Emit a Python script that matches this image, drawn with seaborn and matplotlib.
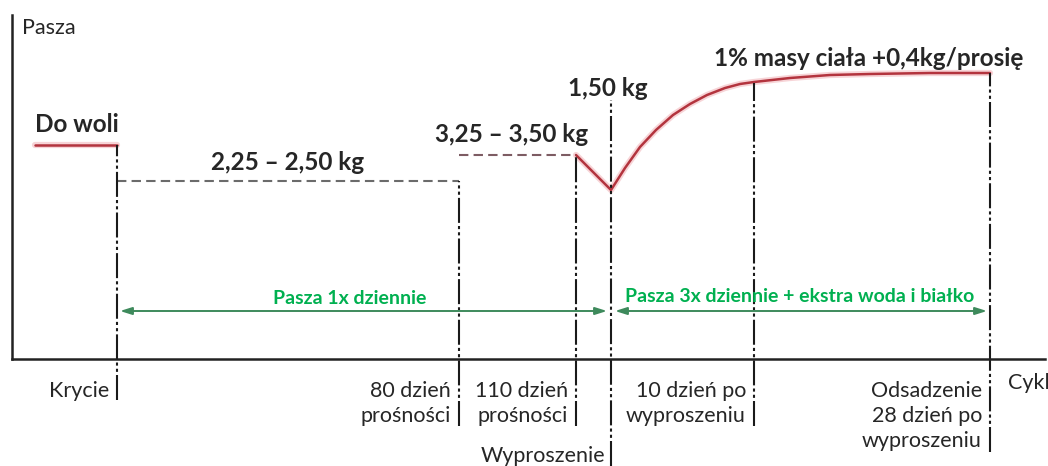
import numpy as np
import pandas as pd
import matplotlib
matplotlib.use('Agg')
import matplotlib.pyplot as plt
import seaborn as sns

sns.set_style('white')
plt.rcParams['font.family'] = ['Lato', 'DejaVu Sans']

# schematic timeline positions of the cycle stages (not to scale, as in the source)
stage_names = ['Krycie', '80 dzień\nprośności', '110 dzień\nprośności', 'Wyproszenie',
               '10 dzień po\nwyproszeniu', 'Odsadzenie\n28 dzień po\nwyproszeniu']
stage_x = [105, 447, 564, 599, 742, 978]
stage_top = [214, 178, 204, 259, 276, 286]
stage_bottom = [-41, -67, -67, -107, -67, -93]

# feed level (schematic units)
ad_lib_x = [23, 105]
ad_lib_y = [214, 214]
early_x = [105, 447]
early_y = [178, 178]
late_x = [447, 564]
late_y = [204, 204]
lact_x = [564, 599, 613, 628, 644, 661, 678, 695, 713, 728, 742, 778, 818, 858, 918, 978]
lact_y = [204, 169, 191, 212, 229, 244, 255, 264, 271, 275, 277, 281, 284, 285, 286, 286]

red = '#b3343e'
green_txt = '#00b050'
green_arrow = '#3e8a5c'

fig = plt.figure(figsize=(10.48, 4.66), dpi=100)
ax = fig.add_axes([12 / 1048, (466 - 359) / 466, (1045 - 12) / 1048, (359 - 15) / 466])
ax.set_xlim(0, 1033)
ax.set_ylim(0, 344)

for xs, ys in [(ad_lib_x, ad_lib_y), (lact_x, lact_y)]:
    df = pd.DataFrame({'x': xs, 'y': ys})
    ax.plot(xs, ys, color='#f2b8bd', lw=4.5, alpha=0.6, solid_capstyle='round')
    sns.lineplot(data=df, x='x', y='y', ax=ax, color=red, lw=1.8, sort=False)

sns.lineplot(x=early_x, y=early_y, ax=ax, color='#6b6b6b', lw=1.5, linestyle=(0, (4.5, 2.5)))
sns.lineplot(x=late_x, y=late_y, ax=ax, color='#7d5c63', lw=1.5, linestyle=(0, (4.5, 2.5)))

for x, top, bot in zip(stage_x, stage_top, stage_bottom):
    ax.plot([x, x], [bot, top], color='#1a1a1a', lw=1.5, clip_on=False,
            linestyle=(0, (12, 1.5, 1.5, 1.5, 1.5, 1.5)))

# stage labels under the axis
for name, x in zip(stage_names, stage_x):
    if name == 'Wyproszenie':
        ax.text(x - 6, -97, name, ha='right', va='center', fontsize=15.5, clip_on=False)
        continue
    ax.text(x - 8, -22, name, ha='right', va='top', fontsize=15.5, linespacing=1.3,
            clip_on=False)

# arrows for feeding frequency
arrow_y = 48
for x0, x1 in [(stage_x[0] + 3, stage_x[3] - 4), (stage_x[3] + 4, stage_x[5] - 3)]:
    ax.annotate('', xy=(x1, arrow_y), xytext=(x0, arrow_y),
                arrowprops=dict(arrowstyle='<|-|>,head_length=0.7,head_width=0.22',
                                color=green_arrow, lw=1.4, shrinkA=0, shrinkB=0))
ax.text(338, 61, 'Pasza 1x dziennie', ha='center', va='center', fontsize=14,
        fontweight='bold', color=green_txt)
ax.text(788, 63, 'Pasza 3x dziennie + ekstra woda i białko', ha='center', va='center',
        fontsize=14, fontweight='bold', color=green_txt)

# feed amount labels
ax.text(65, 234, 'Do woli', ha='center', va='center', fontsize=17.5, fontweight='bold')
ax.text(276, 196, '2,25 – 2,50 kg', ha='center', va='center', fontsize=17.5, fontweight='bold')
ax.text(500, 224, '3,25 – 3,50 kg', ha='center', va='center', fontsize=17.5, fontweight='bold')
ax.text(596, 271, '1,50 kg', ha='center', va='center', fontsize=17.5, fontweight='bold')
ax.text(857, 301, '1% masy ciała +0,4kg/prosię', ha='center', va='center', fontsize=17.5,
        fontweight='bold')

ax.text(10, 331, 'Pasza', ha='left', va='center', fontsize=15.5)
ax.text(996, -24, 'Cykl', ha='left', va='center', fontsize=15.5, clip_on=False)

ax.set_xticks([])
ax.set_yticks([])
ax.set_xlabel('')
ax.set_ylabel('')
for side in ['top', 'right']:
    ax.spines[side].set_visible(False)
for side in ['left', 'bottom']:
    ax.spines[side].set_color('#222222')
    ax.spines[side].set_linewidth(1.8)

fig.savefig('out.png', dpi=100)
